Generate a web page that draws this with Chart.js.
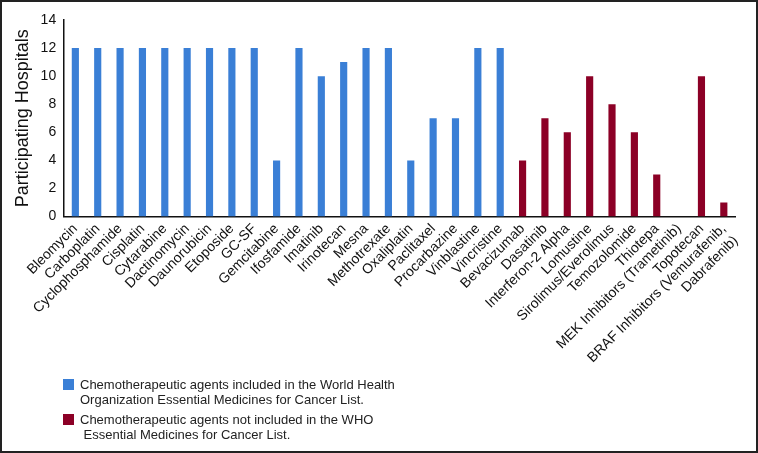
<!DOCTYPE html>
<html>
<head>
<meta charset="utf-8">
<script src="https://cdn.jsdelivr.net/npm/chart.js@4/dist/chart.umd.min.js"></script>
<style>
  html, body { margin: 0; padding: 0; background: #fff; }
  #wrap { position: relative; width: 758px; height: 453px; box-sizing: border-box; border: 2px solid #222; }
  #legend { position: absolute; left: 61px; top: 375px; font-family: "Liberation Sans", Arial, sans-serif; font-size: 13px; color: #222; line-height: 15px; }
  .item { display: flex; align-items: flex-start; margin-bottom: 5px; }
  .box { width: 11px; height: 11px; margin: 2px 6px 0 0; flex: none; }
</style>
</head>
<body>
<div id="wrap">
  <canvas id="bar-chart" width="754" height="449"></canvas>
  <div id="legend"></div>
</div>
<script>
let drugs = ['Bleomycin', 'Carboplatin', 'Cyclophosphamide', 'Cisplatin', 'Cytarabine', 'Dactinomycin',
  'Daunorubicin', 'Etoposide', 'GC-SF', 'Gemcitabine', 'Ifosfamide', 'Imatinib', 'Irinotecan', 'Mesna',
  'Methotrexate', 'Oxaliplatin', 'Paclitaxel', 'Procarbazine', 'Vinblastine', 'Vincristine',
  'Bevacizumab', 'Dasatinib', 'Interferon-2 Alpha', 'Lomustine', 'Sirolimus/Everolimus', 'Temozolomide',
  'Thiotepa', 'MEK Inhibitors (Trametinib)', 'Topotecan', ['BRAF Inhibitors (Vemurafenib,', 'Dabrafenib)']];

let whoList = [12, 12, 12, 12, 12, 12, 12, 12, 12, 4, 12, 10, 11, 12, 12, 4, 7, 7, 12, 12,
  null, null, null, null, null, null, null, null, null, null];
let notWho = [null, null, null, null, null, null, null, null, null, null, null, null, null, null, null,
  null, null, null, null, null, 4, 7, 6, 10, 8, 6, 3, 0, 10, 1];

let yTicks = [0, 2, 4, 6, 8, 10, 12, 14];

let legendText = [
  ['Chemotherapeutic agents included in the World Health', 'Organization Essential Medicines for Cancer List.'],
  ['Chemotherapeutic agents not included in the WHO', '\u00a0Essential Medicines for Cancer List.']
];

Chart.defaults.font.family = '"Liberation Sans", Arial, sans-serif';
Chart.defaults.color = '#111';

let chart = new Chart(document.getElementById('bar-chart'), {
  type: 'bar',
  data: {
    labels: drugs,
    datasets: [{
        data: whoList,
        label: 'WHO',
        backgroundColor: '#3a7fd6',
        grouped: false,
        categoryPercentage: 1,
        barPercentage: 0.32
      }, {
        data: notWho,
        label: 'not WHO',
        backgroundColor: '#8c0026',
        grouped: false,
        categoryPercentage: 1,
        barPercentage: 0.32
      }
    ]
  },
  options: {
    responsive: false,
    animation: { duration: 0 },
    events: [],
    layout: { padding: { left: 6, right: 21, top: 18, bottom: 69 } },
    plugins: {
      legend: { display: false },
      tooltip: { enabled: false }
    },
    scales: {
      x: {
        grid: { display: false, drawTicks: false },
        border: { color: '#111', width: 1.5 },
        ticks: { font: { size: 14 }, maxRotation: 45, minRotation: 45, padding: 4, autoSkip: false }
      },
      y: {
        min: 0,
        max: 14,
        afterBuildTicks: axis => { axis.ticks = yTicks.map(v => ({ value: v })); },
        grid: { display: false, drawTicks: true, tickLength: 5, tickColor: '#111' },
        border: { color: '#111', width: 1.5 },
        ticks: { font: { size: 14 }, padding: 3 },
        title: { display: true, text: 'Participating Hospitals', font: { size: 18 }, padding: { bottom: 4 } }
      }
    }
  }
});

let legend = document.getElementById('legend');
chart.data.datasets.forEach((ds, i) => {
  let item = document.createElement('div');
  item.className = 'item';
  item.innerHTML = '<span class="box" style="background:' + ds.backgroundColor + '"></span><span>' +
    legendText[i].join('<br>') + '</span>';
  legend.appendChild(item);
});
</script>
</body>
</html>
